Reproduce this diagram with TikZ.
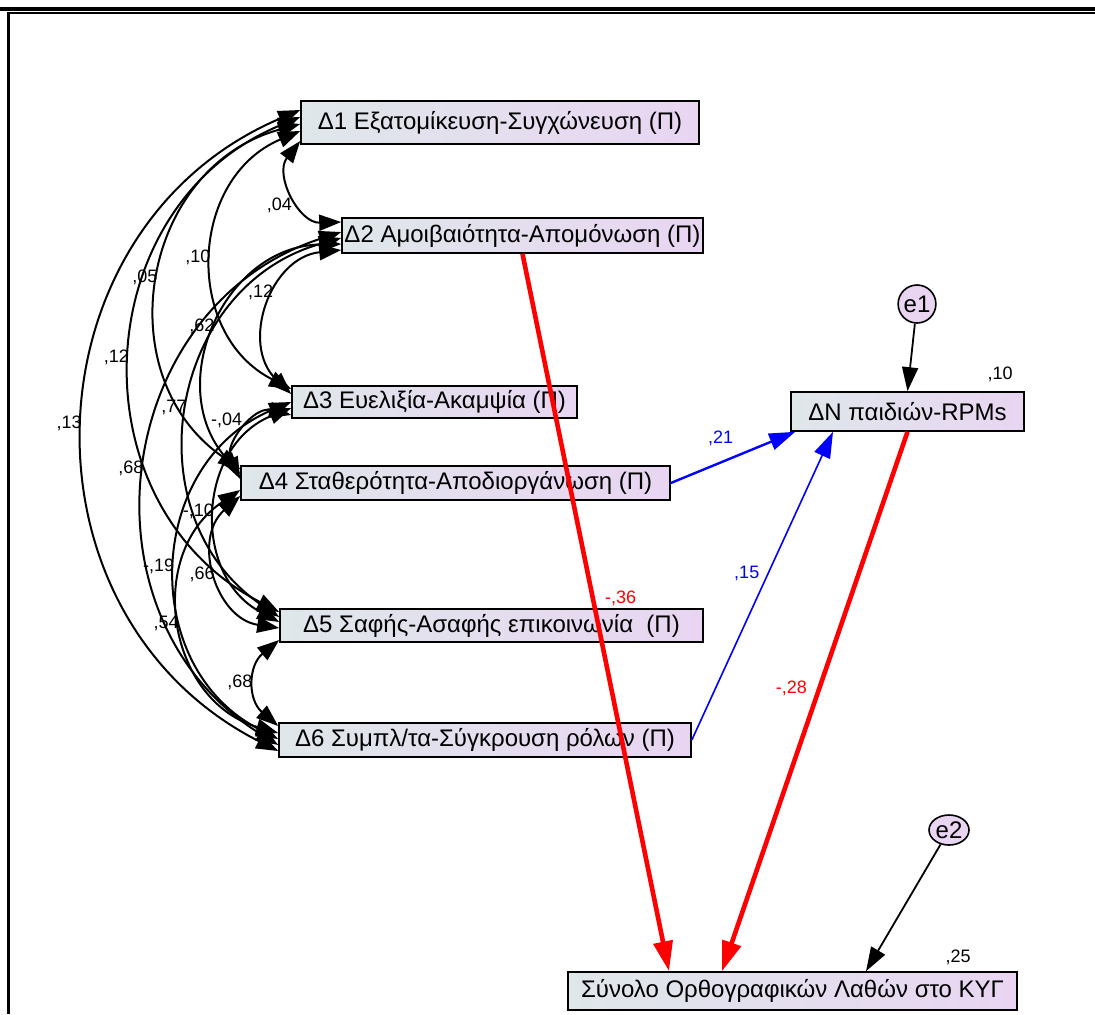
\documentclass[tikz,border=0pt]{standalone}
\usepackage{fontspec}
\setmainfont{Liberation Sans}
\usetikzlibrary{arrows.meta,shapes.geometric}
\definecolor{boxl}{RGB}{223,231,234}
\definecolor{boxr}{RGB}{233,213,242}

\begin{document}
\begin{tikzpicture}[x=0.5pt,y=0.5pt]
      \tikzstyle{var}=[draw,line width=0.8pt,left color=boxl,right color=boxr,
                       inner sep=0pt,font=\fontsize{12}{14}\selectfont]
      \tikzstyle{err}=[draw,ellipse,line width=0.8pt,fill=boxr,inner sep=0pt,
                       font=\fontsize{12}{14}\selectfont]
      \tikzstyle{coef}=[inner sep=1pt,font=\fontsize{9}{10}\selectfont]
      \tikzstyle{cov}=[<->,>={Triangle[length=11pt,width=8pt]},line width=1pt,
                       bend right=65,looseness=1.2]
      \tikzstyle{path}=[->,>={Triangle[length=12pt,width=8pt]},line width=0.9pt]
      \tikzstyle{pospath}=[->,>={Triangle[length=13pt,width=8.5pt]},blue,line width=1.2pt]
      \tikzstyle{negpath}=[->,>={Triangle[length=15pt,width=9.5pt]},red,line width=2.3pt]
      \useasboundingbox (0,0) rectangle (1095,-1014);
      % frame
      \draw[line width=1.7pt] (0,-9) -- (1095,-9);
      \draw[line width=1.3pt] (1095,-13) -- (8.5,-13) -- (8.5,-1014);
      % variables
      \node (dim1) [var,minimum width=199pt,minimum height=21.5pt] at (500,-122.5)
            {Δ1 Εξατομίκευση-Συγχώνευση (Π)};
      \node (dim2) [var,minimum width=180.5pt,minimum height=17.5pt] at (522.5,-235.5)
            {Δ2 Αμοιβαιότητα-Απομόνωση (Π)};
      \node (dim3) [var,minimum width=142.5pt,minimum height=16pt] at (434.5,-402)
            {Δ3 Ευελιξία-Ακαμψία (Π)};
      \node (dim4) [var,minimum width=214.5pt,minimum height=17pt] at (455.5,-483)
            {Δ4 Σταθερότητα-Αποδιοργάνωση (Π)};
      \node (dim5) [var,minimum width=211.5pt,minimum height=16.5pt] at (491.5,-625.5)
            {Δ5 Σαφής-Ασαφής επικοινωνία~~(Π)};
      \node (dim6) [var,minimum width=206pt,minimum height=17pt] at (485,-740)
            {Δ6 Συμπλ/τα-Σύγκρουση ρόλων (Π)};
      \node (dn) [var,minimum width=116.5pt,minimum height=19.5pt] at (907.5,-411.5)
            {ΔΝ παιδιών-RPMs};
      \node (total) [var,minimum width=224.5pt,minimum height=19pt] at (792.5,-991)
            {Σύνολο Ορθογραφικών Λαθών στο ΚΥΓ};
      \node (e1) [err,minimum width=18pt,minimum height=19pt] at (917,-304) {e1};
      \node (e2) [err,minimum width=20pt,minimum height=15pt] at (949,-830) {e2};
      \node (r2dn) [coef] at (1000,-374) {,10};
      \node (r2total) [coef] at (958,-957) {,25};

      % covariances
      \draw[cov] ([yshift=6.25pt]dim1.west) to node[coef,left] {,13} ([yshift=-5.5pt]dim6.west);
      \draw[cov] ([yshift=2.75pt]dim1.west) to node[coef,left] {,12} ([yshift=6.75pt]dim5.west);
      \draw[cov] ([yshift=-0.75pt]dim1.west) to node[coef,left] {,05} ([yshift=7pt]dim4.west);
      \draw[cov] ([yshift=-4.25pt]dim1.west) to node[coef,left] {,10} ([yshift=6.5pt]dim3.west);
      \draw[cov] ([yshift=-9.25pt]dim1.west) to node[coef,below left] {,04} ([yshift=6.75pt]dim2.west);
      \draw[cov] ([yshift=1.75pt]dim2.west) to node[coef,left] {,68} ([yshift=-2.5pt]dim6.west);
      \draw[cov] ([yshift=-1.25pt]dim2.west) to node[coef,left] {,77} ([yshift=4.25pt]dim5.west);
      \draw[cov] ([yshift=-4.25pt]dim2.west) to node[coef,left] {,62} ([yshift=4.5pt]dim4.west);
      \draw[cov] ([yshift=-7.25pt]dim2.west) to node[coef,left,pos=0.42] {,12} ([yshift=4pt]dim3.west);
      \draw[cov] ([yshift=0pt]dim3.west) to node[coef,left] {-,19} ([yshift=0.5pt]dim6.west);
      \draw[cov] ([yshift=-3pt]dim3.west) to node[coef,left] {-,10} ([yshift=1.75pt]dim5.west);
      \draw[cov] ([yshift=-6.5pt]dim3.west) to node[coef,above left] {-,04} ([yshift=2pt]dim4.west);
      \draw[cov] ([yshift=-3.5pt]dim4.west) to node[coef,left] {,54} ([yshift=3.5pt]dim6.west);
      \draw[cov] ([yshift=-6.5pt]dim4.west) to node[coef,left] {,66} ([yshift=-1.25pt]dim5.west);
      \draw[cov,bend right=50] ([yshift=-7.25pt]dim5.west) to node[coef,left] {,68} ([yshift=7pt]dim6.west);

      % regressions
      \draw[negpath] (dim2.south) -- node[coef,pos=0.48,right=4pt] {-,36}
            ([xshift=-61.75pt]total.north);
      \draw[negpath] (dn.south) -- node[coef,pos=0.476,left=4pt] {-,28}
            ([xshift=-35.25pt]total.north);
      \draw[pospath] (dim4.east) -- node[coef,pos=0.4,above=7pt] {,21}
            ([xshift=2.5pt]dn.south west);
      \draw[pospath,line width=0.8pt] (dim6.east) -- node[coef,pos=0.54,left=3pt] {,15}
            ([xshift=-37.25pt]dn.south);
      \draw[path] (e1) -- (dn.north);
      \draw[path] (e2) -- ([xshift=36.75pt]total.north);
\end{tikzpicture}
\end{document}
